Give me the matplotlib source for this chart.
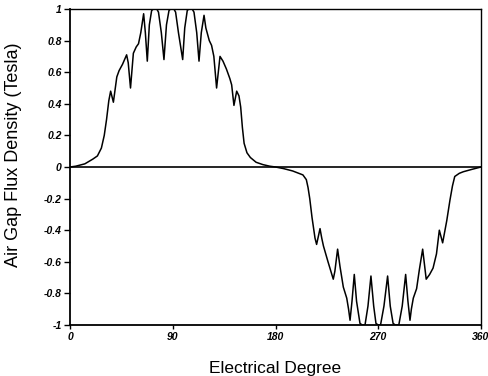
import matplotlib
matplotlib.use("Agg")
import matplotlib.pyplot as plt

# electrical degree vs air gap flux density (Tesla)
degree = [
    0, 5, 13, 20, 24, 27.5, 30, 32, 34, 35.6, 38, 41, 43, 46, 49.6, 51, 53,
    55.5, 58, 60, 62, 64.5, 66, 67.7, 69.5, 71.5, 73, 76, 77.5, 80, 82.3,
    84.5, 86.7, 88, 91, 92.5, 95, 98.7, 100.5, 102.7, 104, 107, 108.6, 111,
    113, 115, 117.4, 119, 122, 124, 126, 128.4, 131.4, 134, 137, 140, 141.6,
    143.6, 146, 148, 149.5, 151, 152.5, 155, 158, 163, 169, 175, 180, 187,
    195, 204, 207, 208.5, 210, 212, 214.6, 216, 219, 220.5, 222, 226, 230.6,
    232, 234.4, 236.5, 239.4, 242.4, 244, 245.3, 247, 249, 251, 254, 256,
    258.4, 261, 263.6, 266, 268, 270, 272, 275, 278.2, 280.5, 283, 285, 288,
    291, 294, 296, 297.8, 299, 300.7, 303.6, 306, 308.9, 310.5, 312, 315,
    318, 321, 323.5, 326.4, 328.5, 330, 332.8, 335, 337, 341, 344.5, 352, 360,
]
flux = [
    0, 0.005, 0.02, 0.05, 0.07, 0.12, 0.2, 0.30, 0.42, 0.48, 0.41, 0.57, 0.61,
    0.65, 0.71, 0.66, 0.50, 0.72, 0.76, 0.78, 0.85, 0.97, 0.85, 0.67, 0.90,
    0.99, 1.0, 1.0, 0.98, 0.85, 0.68, 0.90, 0.99, 1.0, 1.0, 0.98, 0.85, 0.68,
    0.88, 0.99, 1.0, 1.0, 0.98, 0.85, 0.67, 0.85, 0.96, 0.88, 0.80, 0.77,
    0.70, 0.50, 0.70, 0.67, 0.62, 0.56, 0.52, 0.39, 0.48, 0.45, 0.38, 0.25,
    0.15, 0.09, 0.06, 0.03, 0.015, 0.005, 0, -0.01, -0.025, -0.05, -0.08,
    -0.13, -0.2, -0.32, -0.45, -0.49, -0.39, -0.45, -0.50, -0.60, -0.71,
    -0.66, -0.52, -0.63, -0.76, -0.83, -0.90, -0.97, -0.85, -0.68, -0.85,
    -0.99, -1.0, -1.0, -0.88, -0.69, -0.88, -0.99, -1.0, -1.0, -0.88, -0.69,
    -0.88, -0.99, -1.0, -1.0, -0.88, -0.68, -0.85, -0.97, -0.90, -0.83,
    -0.77, -0.65, -0.52, -0.62, -0.71, -0.68, -0.64, -0.55, -0.40, -0.48,
    -0.40, -0.34, -0.21, -0.12, -0.06, -0.04, -0.03, -0.015, 0,
]

xticks = [0, 90, 180, 270, 360]
xtick_labels = ["0", "90", "180", "270", "360"]
yticks = [-1, -0.8, -0.6, -0.4, -0.2, 0, 0.2, 0.4, 0.6, 0.8, 1]
ytick_labels = ["-1", "-0.8", "-0.6", "-0.4", "-0.2", "0",
                "0.2", "0.4", "0.6", "0.8", "1"]

plt.rcParams["font.family"] = ["Liberation Sans", "DejaVu Sans"]

fig = plt.figure(figsize=(4.89, 3.76), dpi=100)
ax = fig.add_axes([70 / 489, 1 - 325 / 376, 411 / 489, 316 / 376])

ax.plot(degree, flux, color="black", lw=1.1)
ax.axhline(0, color="black", lw=1.2)

ax.set_xlim(0, 360)
ax.set_ylim(-1, 1)
ax.set_xticks(xticks, xtick_labels)
ax.set_yticks(yticks, ytick_labels)
for lab in ax.get_xticklabels() + ax.get_yticklabels():
    lab.set_fontstyle("italic")
    lab.set_fontweight("bold")
    lab.set_fontsize(7.5)
ax.tick_params(axis="x", direction="out", length=3, width=1, pad=2)
ax.tick_params(axis="y", direction="out", length=4, width=1, pad=2)

for side in ["left", "bottom", "top", "right"]:
    ax.spines[side].set_linewidth(1.3)
ax.spines["top"].set_linewidth(1.0)
ax.spines["right"].set_linewidth(1.0)

ax.set_xlabel("Electrical Degree", fontsize=12.5)
ax.set_ylabel("Air Gap Flux Density (Tesla)", fontsize=13)
ax.xaxis.set_label_coords(0.5, -0.115)
ax.yaxis.set_label_coords(-0.118, 0.54)

fig.savefig("out.png", dpi=100)
